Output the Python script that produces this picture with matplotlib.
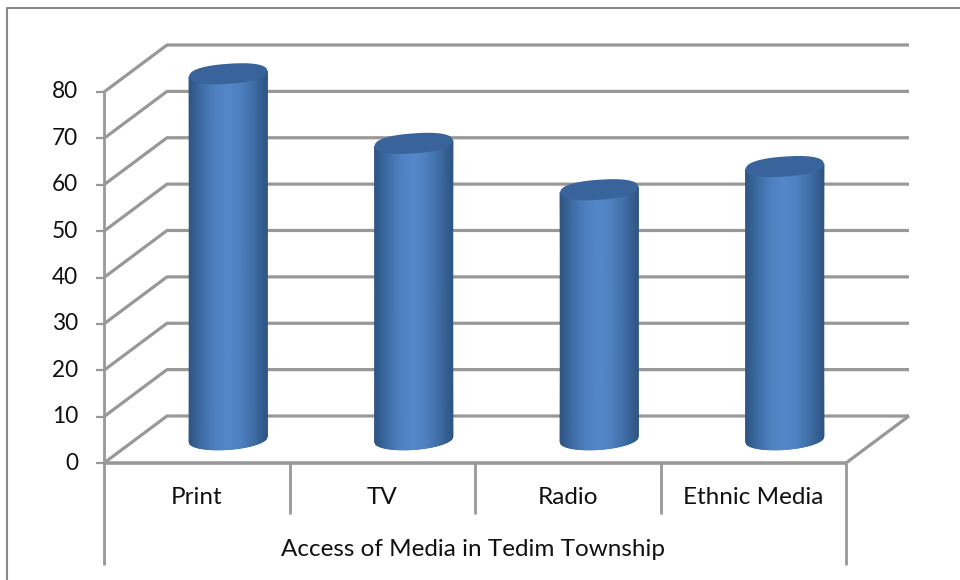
import numpy as np
import matplotlib
matplotlib.use('Agg')
import matplotlib.pyplot as plt
from matplotlib.colors import LinearSegmentedColormap
from matplotlib.lines import Line2D

categories = ['Print', 'TV', 'Radio', 'Ethnic Media']
values = [80, 65, 55, 60]
y_ticks = [0, 10, 20, 30, 40, 50, 60, 70, 80]
x_title = 'Access of Media in Tedim Township'

W, H = 960, 580
X0, X1 = 104, 846       # front plane, pixels
Y0, Y80 = 463, 92
GRID = '#989898'
FONT = 'Lato'
FS = 17.5
INK = '#111111'

PX = (X1 - X0) / 4      # pixels per category
PY = (Y0 - Y80) / 80    # pixels per value unit

# depth of the 3d box, in data units
DX = 63 / PX
DY = 47 / PY
# cylinder shape, in data units
RX = 39 / PX
RY = 10 / PY
TILT = 2.7 / PY
TOP_DROP = 5.3 / PY

fig = plt.figure(figsize=(W / 100, H / 100), dpi=100)
ax = fig.add_axes([X0 / W, 1 - Y0 / H, (X1 - X0) / W, (Y0 - Y80) / H])
ax.axis('off')

# outer border: only left and top survive in the picture
fig.add_artist(Line2D([7 / W, 7 / W, 1], [0, 1 - 7.5 / H, 1 - 7.5 / H], color='#8a8a8a', lw=1.5))


def line(xs, ys, lw=2.3, z=1):
    ax.plot(xs, ys, color=GRID, lw=lw, clip_on=False, zorder=z, solid_capstyle='butt')


# back wall gridlines, side wall, floor
for t in y_ticks:
    line([0, DX, 4 + DX], [t, t + DY, t + DY])
    line([-8 / PX, 0], [t, t], lw=1.6)
line([4, 4 + DX], [0, DY])
line([0, 4], [0, 0], lw=2.6, z=2)

# axis lines and category separators below the floor
bottom = -(565 - Y0) / PY
sep = -(514 - Y0) / PY
line([0, 0], [80, bottom], lw=2)
line([4, 4], [0, bottom], lw=2)
for i in range(1, 4):
    line([i, i], [0, sep], lw=2)

for t in y_ticks:
    ax.text(-26 / PX, t, str(t), ha='right', va='center', family=FONT, fontsize=16.3, color=INK)
for i, c in enumerate(categories):
    ax.text(i + 0.5, -(497 - Y0) / PY, c, ha='center', va='center', family=FONT, fontsize=FS, color=INK)
ax.text(2 - 2 / PX, -(549 - Y0) / PY, x_title, ha='center', va='center', family=FONT, fontsize=FS, color=INK)

# cylinders
body = LinearSegmentedColormap.from_list(
    'body', ['#2f5583', '#3f6ea8', '#4f81c0', '#5488cb', '#4e80be', '#3f6da6', '#2f5583'])
t = np.linspace(0, 2 * np.pi, 160)
for i, v in enumerate(values):
    cx = i + 0.5 + DX / 2
    base = DY / 2
    top = base + v - TOP_DROP
    bx = np.linspace(cx - RX, cx + RX, 80)
    u = (bx - cx) / RX
    under = base - RY * np.sqrt(np.clip(1 - u ** 2, 0, None)) + TILT * u
    upper = top + TILT * u
    ax.pcolormesh(np.vstack([bx, bx]), np.vstack([under, upper]), np.vstack([u, u]),
                  cmap=body, vmin=-1, vmax=1, shading='gouraud', zorder=3, clip_on=False)
    # top face, slightly squarer than a true ellipse
    c, s = np.cos(t), np.sin(t)
    ex = np.sign(c) * np.abs(c) ** 0.85
    ey = np.sign(s) * np.abs(s) ** 0.85
    ax.fill(cx + RX * ex, top + RY * ey + TILT * ex, color='#39649b', lw=0, zorder=4, clip_on=False)

ax.set_xlim(0, 4)
ax.set_ylim(0, 80)
fig.savefig('out.png', dpi=100)
